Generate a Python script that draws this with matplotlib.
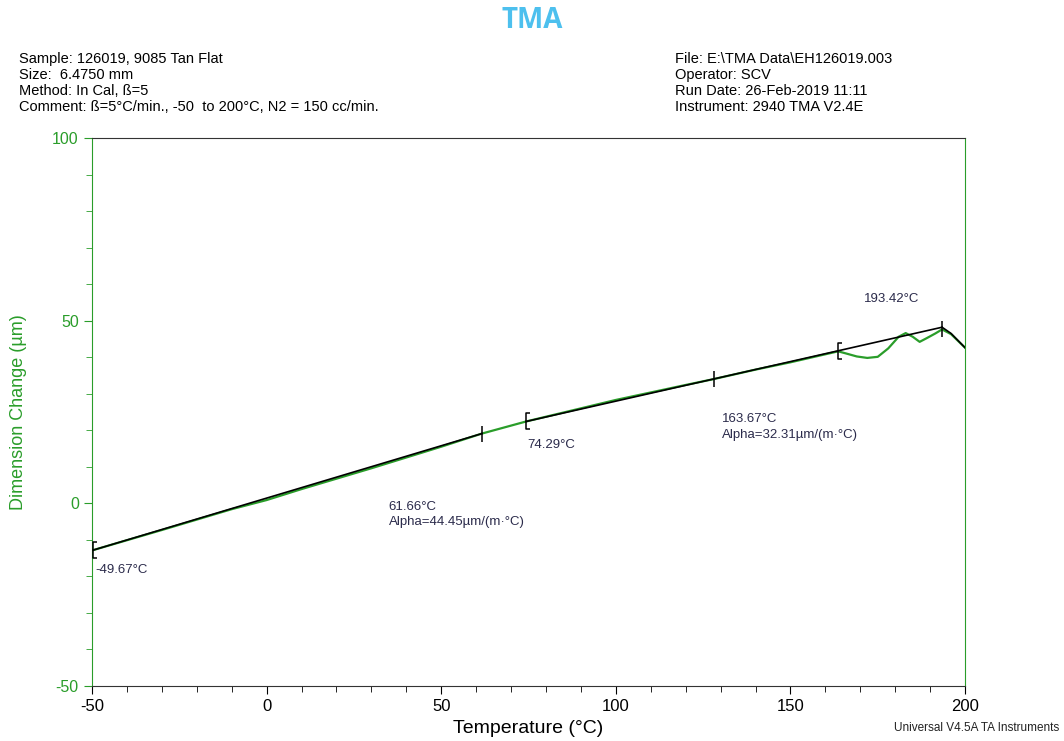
import matplotlib.pyplot as plt
import numpy as np
from matplotlib.path import Path

plt.rcParams['font.family'] = ['Liberation Sans', 'DejaVu Sans']
plt.rcParams['axes.unicode_minus'] = False

# measured curve (temperature in C, dimension change in um)
temp = [-49.67, -30, -10, 0, 10, 30, 50, 61.66, 74.29, 90, 100, 120, 128,
        140, 150, 163.67, 166, 169, 172, 175, 178, 181, 183, 185, 187,
        189, 191.5, 193.42, 196, 200]
dim = [-12.8, -7.3, -1.6, 0.9, 3.9, 9.6, 15.5, 19.1, 22.4, 26.0, 28.3, 32.4,
       34.0, 36.6, 38.6, 41.6, 41.0, 40.2, 39.8, 40.1, 42.4, 45.6, 46.6,
       45.6, 44.2, 45.2, 46.5, 47.6, 46.3, 42.6]

# analysis lines
fit1_t = [-49.67, 61.66]
fit1_d = [-12.8, 19.1]
fit2_t = [74.29, 193.42]
fit2_d = [22.4, 48.2]
drop_t = [193.42, 196, 200]
drop_d = [48.2, 46.5, 42.6]

cursor_plain = [61.66, 128, 193.42]
cursor_bracket = [-49.67, 74.29, 163.67]

green = '#2a9d2a'
lblc = '#2b2b4b'

fig = plt.figure(figsize=(10.64, 7.41), dpi=100)
ax = fig.add_axes([0.0865, 0.0742, 0.8205, 0.7396])

ax.plot(temp, dim, color=green, lw=1.6, zorder=2)
ax.plot(fit1_t, fit1_d, color='black', lw=1.2, zorder=3)
ax.plot(fit2_t, fit2_d, color='black', lw=1.2, zorder=3)
ax.plot(drop_t, drop_d, color='black', lw=1.2, zorder=3)

# cursor marks
bracket = Path([(0.5, -1), (0, -1), (0, 1), (0.5, 1)],
               [Path.MOVETO, Path.LINETO, Path.LINETO, Path.LINETO])
ax.plot(cursor_plain, np.interp(cursor_plain, temp, dim), ls='none',
        marker='|', ms=12, mew=1.1, color='black', zorder=4)
ax.plot(cursor_bracket, np.interp(cursor_bracket, temp, dim), ls='none',
        marker=bracket, ms=12, mew=1.1, mfc='none', color='black', zorder=4)

ax.text(-49, -19, '-49.67°C', fontsize=9.5, color=lblc)
ax.text(35, -6, '61.66°C\nAlpha=44.45µm/(m·°C)', fontsize=9.5, color=lblc,
        linespacing=1.4)
ax.text(74.6, 15.2, '74.29°C', fontsize=9.5, color=lblc)
ax.text(130.5, 18, '163.67°C\nAlpha=32.31µm/(m·°C)', fontsize=9.5,
        color=lblc, linespacing=1.4)
ax.text(171, 55.2, '193.42°C', fontsize=9.5, color=lblc)

ax.set_xlim(-50, 200)
ax.set_ylim(-50, 100)
ax.set_xticks([-50, 0, 50, 100, 150, 200])
ax.set_xticks(np.arange(-50, 201, 10), minor=True)
ax.set_yticks([-50, 0, 50, 100])
ax.set_yticks(np.arange(-50, 101, 10), minor=True)
ax.tick_params(axis='x', which='both', direction='out', labelsize=12,
               colors='black')
ax.tick_params(axis='x', which='major', length=6)
ax.tick_params(axis='x', which='minor', length=4)
ax.tick_params(axis='y', which='both', direction='out', colors=green,
               labelsize=11.5)
ax.tick_params(axis='y', which='major', length=6)
ax.tick_params(axis='y', which='minor', length=4)
for s in ['left', 'right']:
    ax.spines[s].set_color(green)
for s in ['top', 'bottom']:
    ax.spines[s].set_color('#333333')

ax.set_xlabel('Temperature (°C)', fontsize=14, labelpad=4)
ax.set_ylabel('Dimension Change (µm)', fontsize=13, color=green, labelpad=18)

fig.text(0.5, 0.972, 'TMA', ha='center', va='center', fontsize=20,
         fontweight='bold', color='#4dc0ee', family=['Open Sans', 'DejaVu Sans'])
fig.text(0.018, 0.888, 'Sample: 126019, 9085 Tan Flat\nSize:  6.4750 mm\n'
         'Method: In Cal, ß=5\n'
         'Comment: ß=5°C/min., -50  to 200°C, N2 = 150 cc/min.',
         fontsize=10.5, va='center', linespacing=1.2)
fig.text(0.634, 0.888, 'File: E:\\TMA Data\\EH126019.003\nOperator: SCV\n'
         'Run Date: 26-Feb-2019 11:11\nInstrument: 2940 TMA V2.4E',
         fontsize=10.5, va='center', linespacing=1.2)
fig.text(0.996, 0.013, 'Universal V4.5A TA Instruments', fontsize=8.5,
         ha='right', color='#222222')

fig.savefig('out.png', dpi=100)
